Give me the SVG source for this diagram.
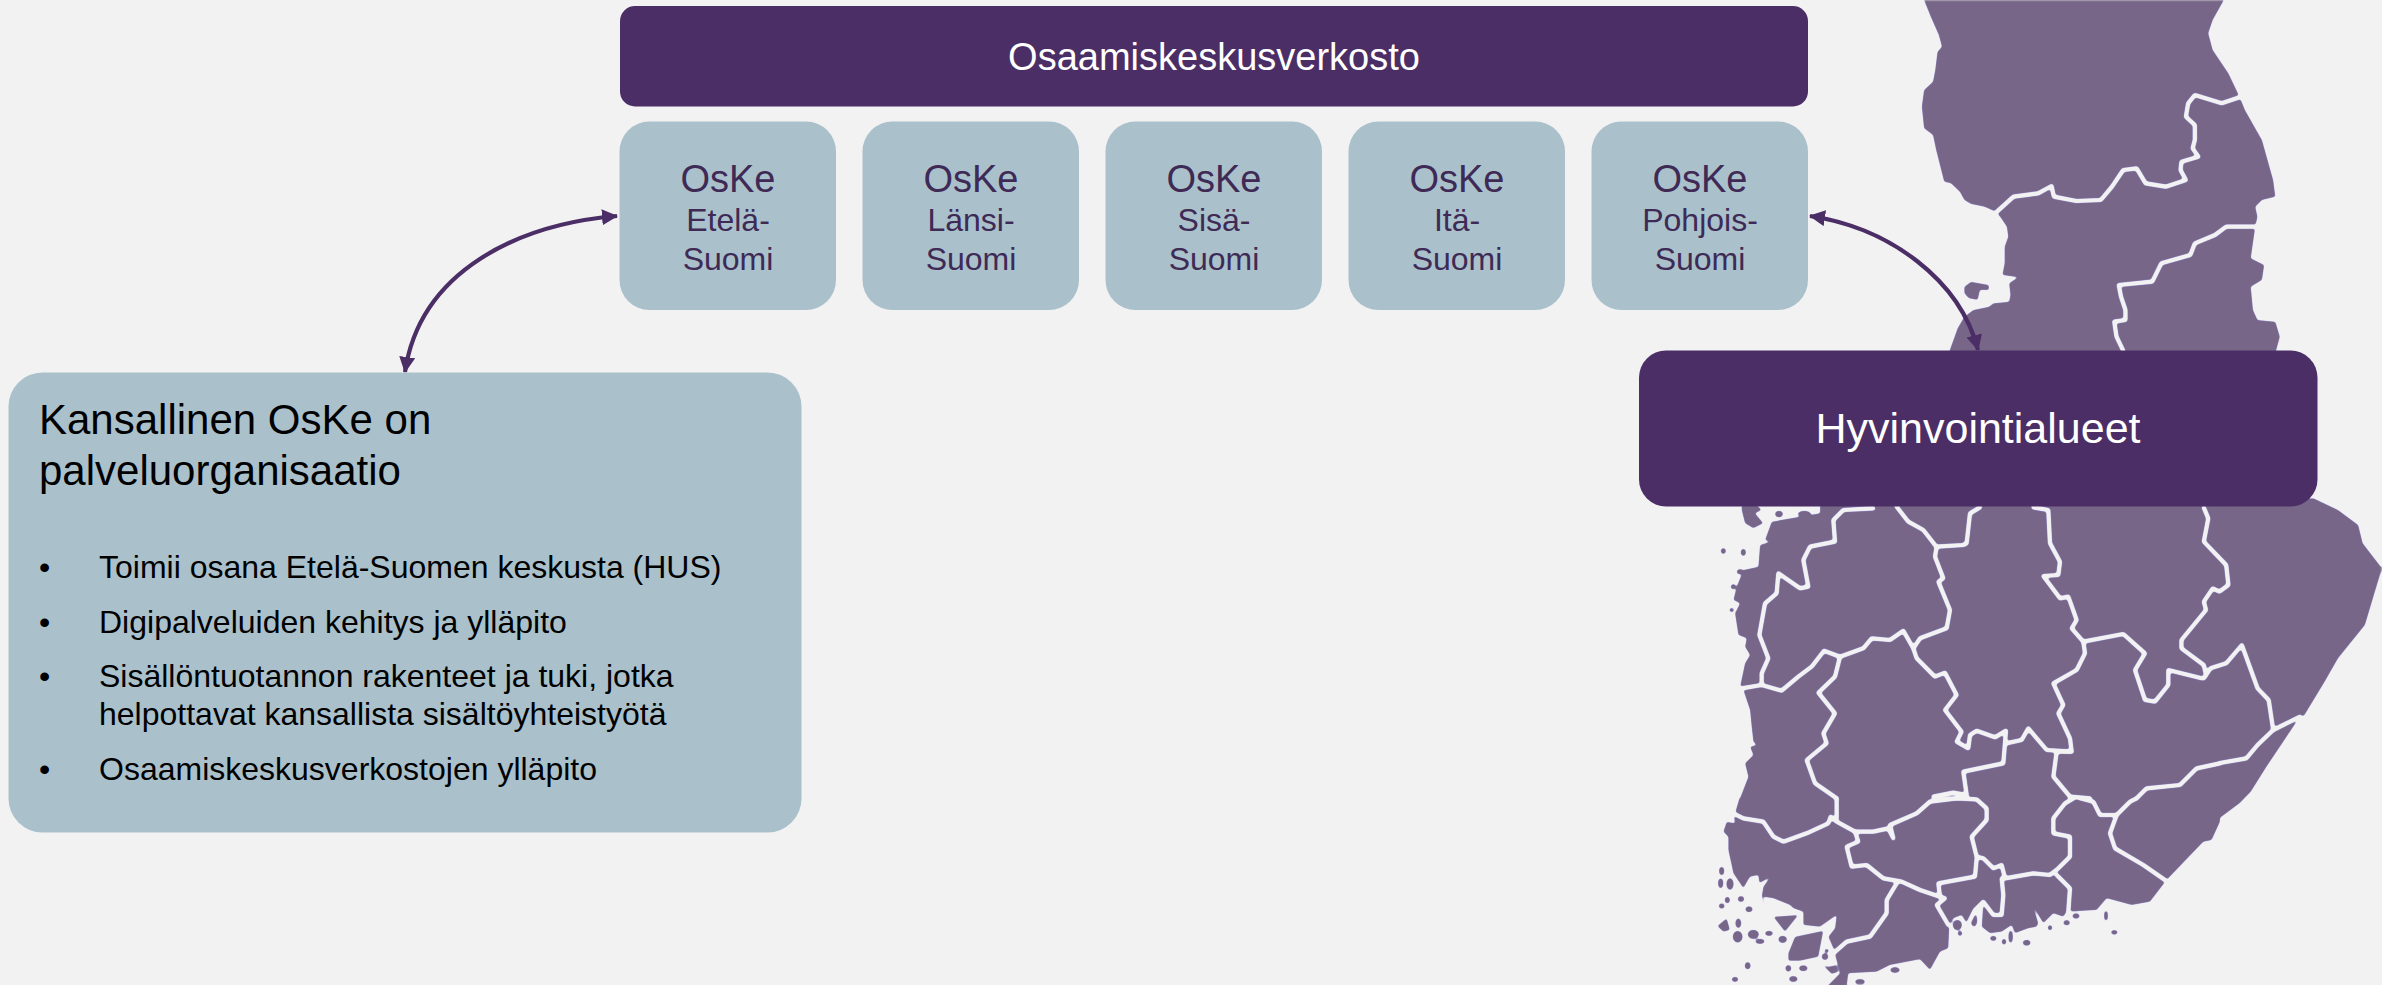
<svg xmlns="http://www.w3.org/2000/svg" width="2382" height="985" viewBox="0 0 2382 985">
<style>
text{font-family:"Liberation Sans",Arial,sans-serif}
.land{fill:#786688;stroke:none}
.b{fill:none;stroke:#f2f2f2;stroke-width:4.2;stroke-linejoin:round;stroke-linecap:round;vector-effect:non-scaling-stroke}
.dark{fill:#4b2e66}
.light{fill:#aac1cc}
.o1{font-size:38px;fill:#3e2a55;text-anchor:middle}
.o2{font-size:32px;fill:#3e2a55;text-anchor:middle}
.li{font-size:32px;fill:#000}
.h{font-size:42px;fill:#000}
.conn{fill:none;stroke:#4b2e66;stroke-width:4.2;marker-start:url(#ah);marker-end:url(#ah)}
</style>
<defs>
<marker id="ah" viewBox="0 0 16 16" refX="15" refY="8" markerWidth="16" markerHeight="16" markerUnits="userSpaceOnUse" orient="auto-start-reverse"><path d="M0,0L16,8L0,16Z" fill="#4b2e66"/></marker>
<filter id="soft" filterUnits="userSpaceOnUse" x="1700" y="0" width="682" height="985" color-interpolation-filters="sRGB">
<feGaussianBlur stdDeviation="1.2"/>
<feComponentTransfer>
<feFuncR type="table" tableValues=".47 .47 .47 .47 .47 .47 .47 .47 .47 .47 .47 .47 .47 .55 .72 .88 .95 .95 .95 .95 .95"/>
<feFuncG type="table" tableValues=".40 .40 .40 .40 .40 .40 .40 .40 .40 .40 .40 .42 .50 .64 .80 .92 .95 .95 .95 .95 .95"/>
<feFuncB type="table" tableValues=".53 .53 .53 .53 .53 .53 .53 .53 .53 .53 .53 .53 .53 .58 .72 .88 .95 .95 .95 .95 .95"/>
</feComponentTransfer>
<feGaussianBlur stdDeviation="0.5"/>
</filter>
</defs>
<rect width="2382" height="985" fill="#f2f2f2"/>
<g id="map" filter="url(#soft)">
<rect x="1700" y="0" width="682" height="985" fill="#f2f2f2"/>
<g transform="translate(1680,0) scale(.44770,.33333)">
<polygon class="land" points="545,0 560,50 578,105 585,140 575,155 570,210 565,245 545,270 540,320 545,385 565,405 572,450 590,545 605,550 625,575 635,600 650,612 680,620 705,635 715,650 730,680 733,710 725,740 725,790 720,825 755,832 735,850 738,885 735,905 700,910 690,920 655,930 635,950 620,985 600,1060 1330,1060 1340,1010 1330,965 1290,960 1280,930 1275,860 1300,840 1305,795 1275,775 1283,700 1285,680 1290,650 1285,620 1300,600 1330,590 1325,540 1300,420 1285,385 1262,330 1250,290 1225,220 1190,150 1180,100 1190,60 1215,0"/>
<polygon class="land" points="635,860 650,845 690,855 690,870 670,870 665,900 645,895 635,880"/>
</g>
<g transform="translate(1700,500) scale(.33333)">
<polygon class="land" points="360,15 360,40 215,65 195,120 210,125 180,135 175,200 130,210 110,260 100,300 120,310 105,340 115,405 140,415 135,440 150,465 135,490 120,560 130,570 150,630 155,680 160,725 170,735 150,740 160,765 135,790 145,830 120,895 120,905 1560,905 1560,15"/>
<polygon class="land" points="125,30 135,70 160,85 190,70 165,40 185,30 170,15 125,15"/>
<ellipse class="land" cx="237" cy="42" rx="12" ry="10"/>
<ellipse class="land" cx="313" cy="42" rx="20" ry="10"/>
<ellipse class="land" cx="70" cy="153" rx="8" ry="9"/>
<ellipse class="land" cx="130" cy="157" rx="8" ry="11"/>
<ellipse class="land" cx="120" cy="215" rx="10" ry="8"/>
<ellipse class="land" cx="100" cy="260" rx="8" ry="8"/>
<ellipse class="land" cx="95" cy="330" rx="7" ry="7"/>
</g>
<g transform="translate(1680,485) scale(.44770,.33333)">
<polygon class="land" points="1100,60 1415,40 1470,75 1515,120 1525,175 1568,250 1550,330 1530,420 1470,520 1440,590 1395,690 1380,705 1310,845 1275,920 1250,955 1205,1000 1185,1065 1160,1070 1085,1185 1000,1000 1000,60"/>
</g>
<g transform="translate(1700,800) scale(.33333)">
<polygon class="land" points="118,-5 105,40 100,40 105,70 80,65 70,95 85,110 85,150 100,220 130,265 150,230 175,225 178,250 210,232 190,260 185,290 200,345 190,290 220,295 270,315 280,325 310,335 310,375 360,380 410,345 405,385 385,410 400,445 420,520 380,560 440,560 445,520 530,515 570,495 660,478 690,510 720,455 745,445 748,380 760,355 785,345 800,370 830,325 850,305 845,380 870,400 905,395 935,375 945,400 985,385 1010,380 1015,370 1000,320 1030,370 1060,340 1090,350 1100,335 1190,330 1220,295 1295,315 1350,305 1400,240 1510,125 1535,120 1560,65 1560,-5"/>
<polygon class="land" points="265,460 285,410 370,392 355,470 300,482 265,482"/>
<polygon class="land" points="220,350 295,345 255,395"/>
<polygon class="land" points="52,378 80,355 90,390 70,395"/>
<polygon class="land" points="368,495 395,522 415,515 410,495 385,500"/>
<g class="land">
<ellipse cx="65" cy="213" rx="8" ry="13"/><ellipse cx="62" cy="250" rx="8" ry="15"/><ellipse cx="90" cy="252" rx="11" ry="18"/><ellipse cx="82" cy="300" rx="8" ry="10"/><ellipse cx="123" cy="297" rx="10" ry="9"/><ellipse cx="65" cy="318" rx="9" ry="8"/><ellipse cx="147" cy="328" rx="11" ry="9"/><ellipse cx="115" cy="370" rx="9" ry="15"/><ellipse cx="113" cy="410" rx="15" ry="18"/><ellipse cx="160" cy="403" rx="17" ry="14"/><ellipse cx="207" cy="400" rx="12" ry="8"/><ellipse cx="180" cy="424" rx="14" ry="8"/><ellipse cx="248" cy="418" rx="13" ry="11"/><ellipse cx="143" cy="497" rx="9" ry="11"/><ellipse cx="105" cy="538" rx="10" ry="8"/><ellipse cx="265" cy="505" rx="9" ry="10"/><ellipse cx="310" cy="505" rx="13" ry="9"/><ellipse cx="280" cy="537" rx="13" ry="9"/><ellipse cx="585" cy="510" rx="15" ry="9"/><ellipse cx="480" cy="545" rx="15" ry="8"/><ellipse cx="880" cy="415" rx="10" ry="8"/><ellipse cx="912" cy="425" rx="7" ry="9"/><ellipse cx="932" cy="410" rx="7" ry="19"/><ellipse cx="980" cy="428" rx="12" ry="9"/><ellipse cx="1050" cy="383" rx="7" ry="8"/><ellipse cx="1100" cy="368" rx="10" ry="8"/><ellipse cx="1128" cy="348" rx="11" ry="8"/><ellipse cx="1218" cy="347" rx="6" ry="15"/><ellipse cx="1243" cy="397" rx="10" ry="7"/><ellipse cx="375" cy="470" rx="10" ry="10"/><ellipse cx="380" cy="452" rx="7" ry="6"/><ellipse cx="780" cy="400" rx="7" ry="8"/><ellipse cx="822" cy="360" rx="10" ry="20"/><ellipse cx="772" cy="375" rx="14" ry="16"/>
</g>
</g>
<g transform="translate(1680,0) scale(.44770,.33333)">
<polyline class="b" points="1250,292 1210,310 1150,285 1135,310 1130,350 1150,375 1150,420 1145,445 1158,470 1120,485 1118,510 1130,540 1085,560 1040,550 1020,505 990,510 965,560 940,600 885,603 835,590 830,558 800,580 745,590 708,635"/>
<polyline class="b" points="1285,680 1220,680 1195,705 1150,730 1140,765 1075,790 1055,845 980,855 985,890 995,930 995,960 970,965 975,1010 990,1052"/>
</g>
<g transform="translate(1700,500) scale(.33333)">
<polyline class="b" points="520,25 430,30 400,60 405,125 330,140 310,180 325,260 300,265 235,220 230,280 195,310 178,405 205,475 185,520 185,555 125,565"/>
<polyline class="b" points="185,555 245,572 295,530 335,500 372,452 420,470 490,445 515,415 570,420 610,392 640,445 650,475 705,530 735,518 770,585 735,630 785,695 770,725 805,745 810,705 830,692 885,712 918,692 910,790 790,815 800,885"/>
<polyline class="b" points="640,445 660,415 740,385 750,330 715,245 730,235 705,170 710,140 790,135 800,130 810,40 840,22"/>
<polyline class="b" points="590,20 625,65 670,90 705,135"/>
<polyline class="b" points="420,470 405,530 355,578 405,640 370,700 380,730 320,780 345,850 410,895"/>
<polyline class="b" points="800,885 760,878 700,890"/>
<polyline class="b" points="1000,22 1045,30 1050,130 1080,185 1075,225 1030,228 1080,295 1105,290 1130,360 1115,385 1150,425 1155,460 1130,510 1060,550 1090,615 1075,640 1110,715 1115,755 1040,750 985,685 965,720 918,730"/>
<polyline class="b" points="1115,755 1070,755 1060,830 1110,890 1170,895"/>
<polyline class="b" points="1150,425 1270,402 1335,460 1305,510 1335,600 1365,605 1405,555 1405,510 1505,535"/>
<polyline class="b" points="1560,790 1490,805 1440,855 1340,865 1310,895"/>
</g>
<g transform="translate(1680,485) scale(.44770,.33333)">
<polyline class="b" points="1170,68 1180,100 1170,170 1220,240 1225,300 1205,320 1190,310 1170,350 1175,375 1120,465 1120,490 1170,540 1175,570"/>
<polyline class="b" points="1170,580 1185,550 1220,535 1255,480 1290,610 1315,645 1325,735"/>
<polyline class="b" points="1206,834 1265,820 1290,780 1325,735 1385,695"/>
</g>
<g transform="translate(1700,800) scale(.33333)">
<polyline class="b" points="100,40 130,55 190,65 220,110 250,125 320,100 385,70 392,50 410,65 465,95 520,95 565,85 580,115 570,75 650,40 690,5"/>
<polyline class="b" points="410,-5 410,55"/>
<polyline class="b" points="465,95 475,125 440,140 455,200 500,195 550,235 605,245 660,270 720,290 715,250 825,230 830,175"/>
<polyline class="b" points="690,5 770,-5 830,-2 860,25 860,60 815,110 830,170 850,175 880,205 905,195 915,235 1000,220 1050,225 1075,205 1110,170 1110,110 1060,100 1060,55 1095,10 1120,-5"/>
<polyline class="b" points="720,290 735,295 710,315 745,375"/>
<polyline class="b" points="590,250 560,300 560,340 510,410 440,425 400,460"/>
<polyline class="b" points="905,235 910,285 905,345 880,345 850,305 825,330 805,370"/>
<polyline class="b" points="1070,225 1110,265 1105,335"/>
<polyline class="b" points="1140,-5 1180,5 1200,45 1250,45 1230,100 1245,145 1330,195 1395,240"/>
<polyline class="b" points="1250,45 1290,5 1310,-5"/>
</g>
</g>
<g id="connectors">
<path class="conn" d="M617,216 C520,224 420,270 405,372"/>
<path class="conn" d="M1810,216 C1890,228 1960,280 1978,350"/>
</g>
<g id="osaamiskeskusverkosto"><rect class="dark" x="620" y="6" width="1188" height="100.500" rx="15"/><text x="1214" y="70" font-size="38" fill="#fff" text-anchor="middle">Osaamiskeskusverkosto</text></g>
<g id="oske-etela"><rect class="light" x="619.500" y="121.500" width="216.500" height="188.500" rx="30"/><text class="o1" x="728" y="192">OsKe</text><text class="o2" x="728" y="231">Etelä-</text><text class="o2" x="728" y="270">Suomi</text></g>
<g id="oske-lansi"><rect class="light" x="862.500" y="121.500" width="216.500" height="188.500" rx="30"/><text class="o1" x="971" y="192">OsKe</text><text class="o2" x="971" y="231">Länsi-</text><text class="o2" x="971" y="270">Suomi</text></g>
<g id="oske-sisa"><rect class="light" x="1105.500" y="121.500" width="216.500" height="188.500" rx="30"/><text class="o1" x="1214" y="192">OsKe</text><text class="o2" x="1214" y="231">Sisä-</text><text class="o2" x="1214" y="270">Suomi</text></g>
<g id="oske-ita"><rect class="light" x="1348.500" y="121.500" width="216.500" height="188.500" rx="30"/><text class="o1" x="1457" y="192">OsKe</text><text class="o2" x="1457" y="231">Itä-</text><text class="o2" x="1457" y="270">Suomi</text></g>
<g id="oske-pohjois"><rect class="light" x="1591.500" y="121.500" width="216.500" height="188.500" rx="30"/><text class="o1" x="1700" y="192">OsKe</text><text class="o2" x="1700" y="231">Pohjois-</text><text class="o2" x="1700" y="270">Suomi</text></g>
<g id="hyvinvointialueet"><rect class="dark" x="1639" y="350.500" width="678.500" height="156" rx="27"/><text x="1978" y="443" font-size="43" fill="#fff" text-anchor="middle">Hyvinvointialueet</text></g>
<g id="kansallinen-oske">
<rect class="light" x="8.500" y="372.500" width="793" height="460" rx="34"/>
<text class="h" x="39" y="434">Kansallinen OsKe on</text>
<text class="h" x="39" y="485">palveluorganisaatio</text>
<text class="li" x="39" y="578">•</text><text class="li" x="99" y="578">Toimii osana Etelä-Suomen keskusta (HUS)</text>
<text class="li" x="39" y="633">•</text><text class="li" x="99" y="633">Digipalveluiden kehitys ja ylläpito</text>
<text class="li" x="39" y="687">•</text><text class="li" x="99" y="687">Sisällöntuotannon rakenteet ja tuki, jotka</text>
<text class="li" x="99" y="725">helpottavat kansallista sisältöyhteistyötä</text>
<text class="li" x="39" y="780">•</text><text class="li" x="99" y="780">Osaamiskeskusverkostojen ylläpito</text>
</g>
</svg>
